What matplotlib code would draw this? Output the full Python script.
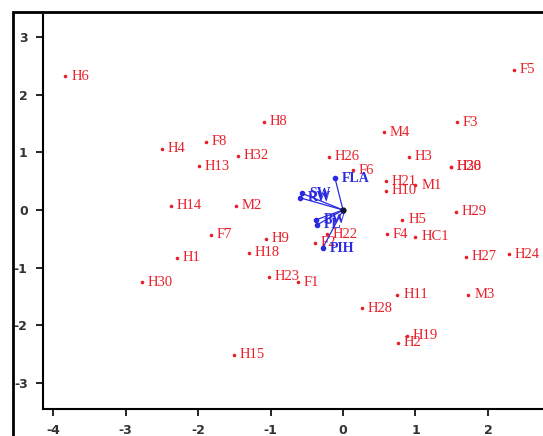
import matplotlib
matplotlib.use("Agg")
import matplotlib.pyplot as plt
from matplotlib.patches import Rectangle

plt.rcParams["axes.unicode_minus"] = False

# sample scores (red)
names = ["H6", "H8", "H4", "F8", "H13", "H32", "H14", "M2", "F7", "H9",
         "H1", "H18", "H30", "H23", "F1", "H15", "F5", "F3", "M4", "H26",
         "H3", "H20", "H38", "F6", "H21", "M1", "H10", "H29", "H5", "F4",
         "HC1", "H27", "H24", "H11", "M3", "H28", "H19", "H2", "H22", "F2"]
xs = [-3.83, -1.09, -2.50, -1.89, -1.99, -1.45, -2.38, -1.48, -1.82, -1.06,
      -2.29, -1.30, -2.77, -1.02, -0.62, -1.50, 2.36, 1.57, 0.57, -0.19,
      0.91, 1.49, 1.49, 0.14, 0.59, 1.00, 0.59, 1.56, 0.82, 0.61,
      1.00, 1.70, 2.29, 0.75, 1.73, 0.26, 0.88, 0.76, -0.22, -0.39]
ys = [2.32, 1.53, 1.06, 1.18, 0.76, 0.94, 0.07, 0.07, -0.43, -0.50,
      -0.83, -0.74, -1.25, -1.16, -1.25, -2.51, 2.43, 1.52, 1.35, 0.92,
      0.92, 0.75, 0.75, 0.69, 0.50, 0.43, 0.33, -0.03, -0.17, -0.42,
      -0.46, -0.81, -0.77, -1.47, -1.47, -1.70, -2.18, -2.30, -0.42, -0.57]

# trait loadings (blue)
traits = ["FLA", "SW", "RW", "PW", "PL", "PIH"]
tx = [-0.11, -0.57, -0.59, -0.37, -0.36, -0.28]
ty = [0.55, 0.29, 0.21, -0.17, -0.26, -0.66]

fig = plt.figure(figsize=(5.43, 4.36), dpi=100)
ax = fig.add_axes([43/543, 27/436, 1 - 43/543, 394/436])

serif = "Liberation Serif"
red = "#e8202a"
blue = "#2a2ae0"

ax.scatter(xs, ys, s=2.5, color=red, zorder=3)
for n, x, y in zip(names, xs, ys):
    ax.text(x + 0.08, y, n, color=red, fontsize=10.5, family=serif,
            va="center", ha="left")

for n, x, y in zip(traits, tx, ty):
    ax.plot([0, x], [0, y], color=blue, lw=0.9, zorder=4)
    ax.scatter([x], [y], s=9, color=blue, zorder=5)
    ax.text(x + 0.1, y, n, color=blue, fontsize=10, family=serif,
            fontweight="bold", va="center", ha="left", zorder=5)
ax.scatter([0], [0], s=12, color="#111133", zorder=6)

ax.set_xlim(-4.14, 2.76)
ax.set_ylim(-3.45, 3.38)
ax.set_xticks([-4, -3, -2, -1, 0, 1, 2])
ax.set_yticks([-3, -2, -1, 0, 1, 2, 3])
ax.tick_params(direction="out", length=5, width=1.2, labelsize=9, pad=6)
for lab in ax.get_xticklabels() + ax.get_yticklabels():
    lab.set_fontweight("bold")
    lab.set_color("#333333")
ax.spines["top"].set_visible(False)
ax.spines["right"].set_visible(False)
ax.spines["left"].set_linewidth(1.5)
ax.spines["bottom"].set_linewidth(1.5)

# outer frame, cut off by the image edges
fig.patches.append(Rectangle((13/543, -0.2), 1.5, 0.2 + 1 - 12/436,
                             transform=fig.transFigure, fill=False,
                             lw=2, edgecolor="black"))

fig.savefig("out.png", dpi=100)
